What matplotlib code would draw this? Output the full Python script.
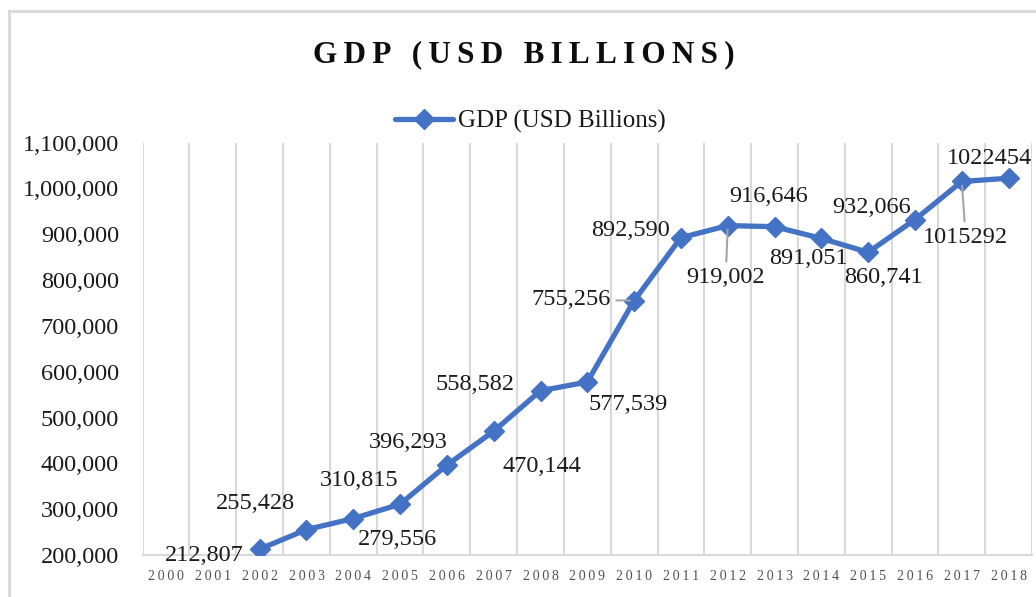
import matplotlib.pyplot as plt
from matplotlib.lines import Line2D
from matplotlib.ticker import FuncFormatter

plt.rcParams['font.family'] = ['Liberation Serif', 'DejaVu Serif']

# categories on the x axis
years = ['2000', '2001', '2002', '2003', '2004', '2005', '2006', '2007', '2008', '2009',
         '2010', '2011', '2012', '2013', '2014', '2015', '2016', '2017', '2018']
# the series only starts in 2002
gdp_years = years[2:]
gdp = [212807, 255428, 279556, 310815, 396293, 470144, 558582, 577539, 755256,
       892590, 919002, 916646, 891051, 860741, 932066, 1015292, 1022454]
data_labels = ['212,807', '255,428', '279,556', '310,815', '396,293', '470,144', '558,582',
               '577,539', '755,256', '892,590', '919,002', '916,646', '891,051', '860,741',
               '932,066', '1015292', '1022454']

# where excel dropped each data label (pixels from the marker)
label_offsets = [(-55, -6), (-51, 26), (44, -21), (-41, 24), (-39, 23), (48, -35), (-66, 6),
                 (41, -22), (-63, 1), (-50, 7), (-2, -52), (-6, 30), (-13, -20), (15, -25),
                 (-43, 12), (4, -56), (-19, 20)]
leader_lines = {'755,256', '919,002', '1015292'}

blue = '#4472C4'
grid_c = '#d9d9d9'
text_c = '#1a1a1a'

fig = plt.figure(figsize=(10.36, 5.97), dpi=100)
ax = fig.add_axes([0.1377, 0.0704, 0.9961 - 0.1377, 0.761 - 0.0704])

xs = [years.index(y) for y in gdp_years]
ax.plot(xs, gdp, color=blue, lw=3.8, marker='D', markersize=10.5, label='GDP (USD Billions)',
        zorder=3, solid_capstyle='round')

for x, v, t, (dx, dy) in zip(xs, gdp, data_labels, label_offsets):
    arrow = None
    if t in leader_lines:
        arrow = dict(arrowstyle='-', color='#a6a6a6', lw=1.5, shrinkA=2, shrinkB=3)
    ax.annotate(t, (x, v), xytext=(dx, dy), textcoords='offset pixels', ha='center', va='center',
                fontsize=17.5, color=text_c, arrowprops=arrow, zorder=4)

ax.set_xlim(-0.5, len(years) - 0.5)
ax.set_ylim(200000, 1100000)
ax.set_yticks(range(200000, 1100001, 100000))
ax.yaxis.set_major_formatter(FuncFormatter(lambda v, p: f'{int(v):,}'))
ax.set_xticks(range(len(years)))
ax.set_xticklabels(['\u2009'.join(y) for y in years], fontsize=10, color='#505050')

# vertical gridlines sit between categories
for b in range(len(years) + 1):
    ax.axvline(b - 0.5, color=grid_c, lw=1.5, zorder=1)

for s in ['top', 'right', 'left']:
    ax.spines[s].set_visible(False)
ax.spines['bottom'].set_color(grid_c)
ax.spines['bottom'].set_linewidth(1.5)
ax.tick_params(axis='both', length=0)
ax.tick_params(axis='y', labelsize=17.5, labelcolor=text_c, pad=17)
ax.tick_params(axis='x', pad=11)

title = '\u2009'.join('GDP (USD BILLIONS)')
fig.text(0.506, 0.908, title, ha='center', va='center', fontsize=22.5, fontweight='bold', color='#0d0d0d')

fig.legend(loc='center', bbox_to_anchor=(0.512, 0.797), frameon=False, fontsize=18,
           handlelength=2.3, handletextpad=0.2, labelcolor=text_c)

# chart border (only left and top show in the crop)
fig.add_artist(Line2D([9 / 1036, 9 / 1036], [0, 1 - 11 / 597], color=grid_c, lw=2, transform=fig.transFigure))
fig.add_artist(Line2D([9 / 1036, 1], [1 - 11 / 597, 1 - 11 / 597], color=grid_c, lw=2, transform=fig.transFigure))

fig.savefig('out.png', dpi=100)
